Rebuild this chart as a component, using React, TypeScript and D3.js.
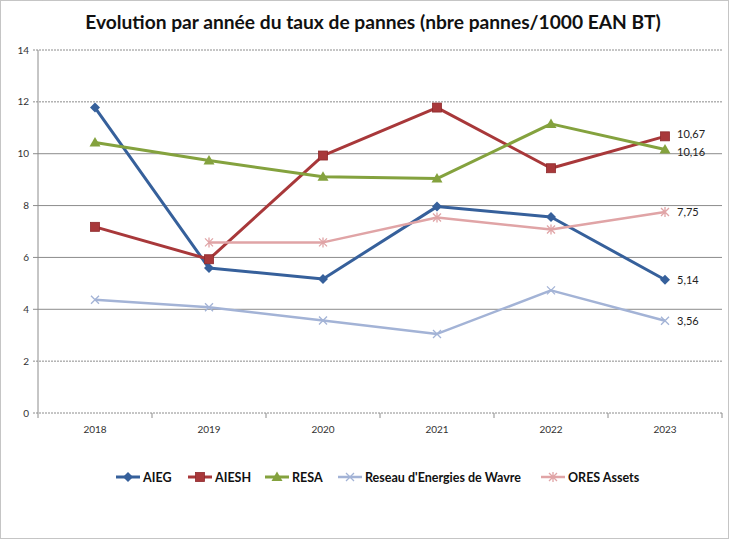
import * as d3 from "d3";

const width = 729;
const height = 539;
const margin = { top: 50, right: 7, bottom: 126, left: 38 };

const years = ["2018", "2019", "2020", "2021", "2022", "2023"];
const yTicks = [0, 2, 4, 6, 8, 10, 12, 14];

const aieg = [11.78, 5.59, 5.17, 7.96, 7.56, 5.14];
const aiesh = [7.18, 5.93, 9.93, 11.78, 9.44, 10.67];
const resa = [10.43, 9.74, 9.11, 9.04, 11.15, 10.16];
const wavre = [4.37, 4.08, 3.57, 3.05, 4.73, 3.56];
const ores = [null, 6.58, 6.58, 7.54, 7.08, 7.75];

type Marker = "diamond" | "square" | "triangle" | "x" | "asterisk";

const series: { name: string; values: (number | null)[]; color: string; marker: Marker; sw: number }[] = [
  { name: "AIEG", values: aieg, color: "#36609b", marker: "diamond", sw: 3 },
  { name: "AIESH", values: aiesh, color: "#a8383a", marker: "square", sw: 3 },
  { name: "RESA", values: resa, color: "#84a23e", marker: "triangle", sw: 3 },
  { name: "Reseau d'Energies de Wavre", values: wavre, color: "#a3b3d6", marker: "x", sw: 2.5 },
  { name: "ORES Assets", values: ores, color: "#e0a4a6", marker: "asterisk", sw: 2.5 },
];

// legend item positions (x of the marker centre)
const legendX = [128, 200, 277, 350, 553];

const fmt = (v: number) => v.toFixed(2).replace(".", ",");

const MarkerShape = ({ type, x, y, color }: { type: Marker; x: number; y: number; color: string }) => {
  if (type === "diamond") {
    return <path d={`M${x},${y - 5}L${x + 5},${y}L${x},${y + 5}L${x - 5},${y}Z`} fill={color} />;
  }
  if (type === "square") {
    return <rect x={x - 4.5} y={y - 4.5} width={9} height={9} fill={color} stroke="#8e2a2c" strokeWidth={0.8} />;
  }
  if (type === "triangle") {
    return <path d={`M${x},${y - 5.5}L${x + 5.5},${y + 4}L${x - 5.5},${y + 4}Z`} fill={color} />;
  }
  const lines = [`M${x - 4},${y - 4}L${x + 4},${y + 4}`, `M${x - 4},${y + 4}L${x + 4},${y - 4}`];
  if (type === "asterisk") lines.push(`M${x},${y - 5}L${x},${y + 5}`);
  return <path d={lines.join("")} stroke={color} strokeWidth={1.3} fill="none" />;
};

export default function App() {
  const x = d3.scaleBand().domain(years).range([margin.left, width - margin.right]);
  const y = d3.scaleLinear().domain([0, 14]).range([height - margin.bottom, margin.top]);
  const cx = (yr: string) => (x(yr) ?? 0) + x.bandwidth() / 2;

  const line = d3
    .line<number | null>()
    .defined(d => d !== null)
    .x((_, i) => cx(years[i]))
    .y(d => y(d as number));

  const font = "Lato, 'Noto Sans', sans-serif";
  const x0 = margin.left;
  const x1 = width - margin.right;
  const y0 = y(0);

  return (
    <svg width={width} height={height} style={{ position: "fixed", left: 0, top: 0, background: "#fff" }} fontFamily={font}>
      <rect x={0.5} y={0.5} width={width - 1} height={height - 1} fill="#fff" stroke="#8a8a8a" strokeDasharray="1,1" />
      <text x={373} y={29} textAnchor="middle" fontSize={19.2} fontWeight="bold" fill="#111">
        Evolution par année du taux de pannes (nbre pannes/1000 EAN BT)
      </text>

      {yTicks.map(t => (
        <g key={t}>
          <line x1={x0 - 5} x2={x1} y1={y(t)} y2={y(t)} stroke="#8c8c8c" strokeWidth={1} strokeDasharray={t >= 12 || t === 2 || t === 0 ? "2,1" : undefined} />
          <text x={x0 - 9} y={y(t) + 3.5} textAnchor="end" fontSize={10} fill="#333">{t}</text>
        </g>
      ))}
      <line x1={x0} x2={x0} y1={y(14)} y2={y0} stroke="#8c8c8c" />
      {years.map(yr => (
        <g key={yr}>
          <line x1={x(yr) ?? 0} x2={x(yr) ?? 0} y1={y0} y2={y0 + 5} stroke="#8c8c8c" />
          <text x={cx(yr)} y={y0 + 20} textAnchor="middle" fontSize={10} fill="#333">{yr}</text>
        </g>
      ))}
      <line x1={x1} x2={x1} y1={y0} y2={y0 + 5} stroke="#8c8c8c" />

      {series.map(s => (
        <g key={s.name}>
          <path d={line(s.values) ?? ""} fill="none" stroke={s.color} strokeWidth={s.sw} strokeLinejoin="round" />
          {s.values.map((v, i) =>
            v === null ? null : <MarkerShape key={i} type={s.marker} x={cx(years[i])} y={y(v)} color={s.color} />
          )}
        </g>
      ))}

      {series.map(s => {
        const last = s.values[s.values.length - 1] as number;
        const offset = s.name === "AIESH" ? -2 : s.name === "RESA" ? 2 : 0;
        return (
          <text key={s.name} x={cx(years[years.length - 1]) + 12} y={y(last) + 4 + offset} fontSize={11} fill="#222">
            {fmt(last)}
          </text>
        );
      })}

      {series.map((s, i) => (
        <g key={s.name}>
          <line x1={legendX[i] - 12} x2={legendX[i] + 12} y1={477} y2={477} stroke={s.color} strokeWidth={s.sw} />
          <MarkerShape type={s.marker} x={legendX[i]} y={477} color={s.color} />
          <text x={legendX[i] + 15} y={481.5} fontSize={12.5} fontWeight="bold" fill="#111">{s.name}</text>
        </g>
      ))}
    </svg>
  );
}
